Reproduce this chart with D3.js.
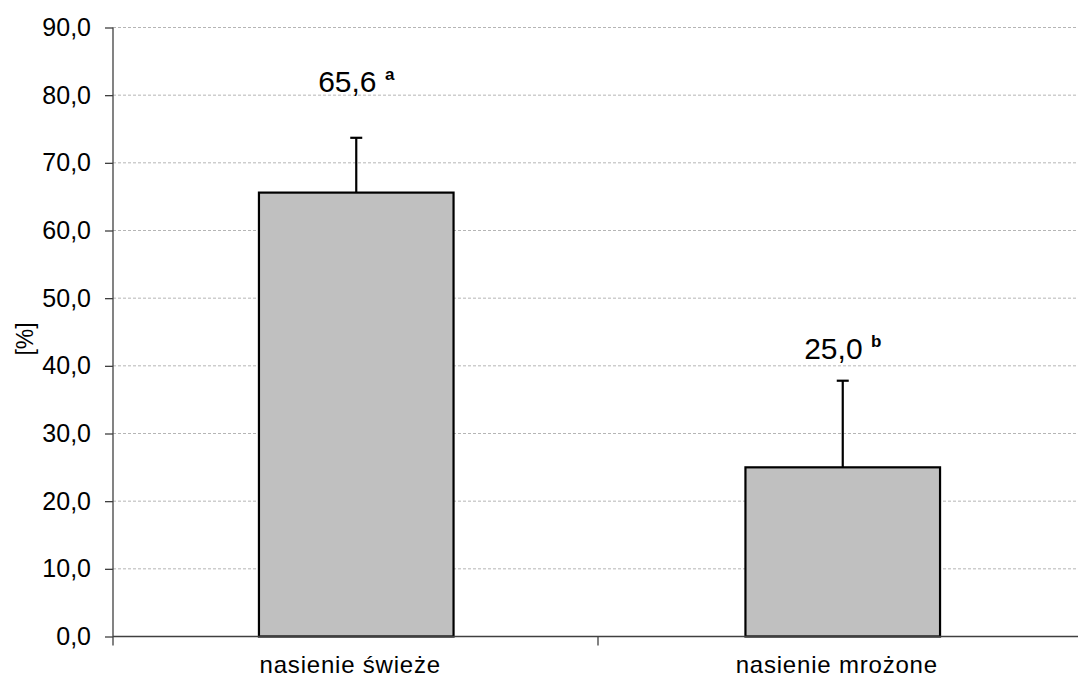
<!DOCTYPE html>
<html><head><meta charset="utf-8">
<script src="https://cdn.jsdelivr.net/npm/d3@7"></script>
<style>body{margin:0;background:#fff}svg{display:block}text{font-family:"Liberation Sans",Arial,sans-serif;fill:#000}</style>
</head><body>
<svg id="c" width="1078" height="679"></svg>
<script>
const categories = ["nasienie świeże", "nasienie mrożone"];
const values = [65.6, 25.0];
const errors = [8.1, 12.8];
const valueLabels = ["65,6", "25,0"];
const letters = ["a", "b"];
const labelPos = [80.5, 41.0];
const yTicks = [0,10,20,30,40,50,60,70,80,90];

(function(){
const svg = d3.select("#c");
const mL = 113, mR = 1086, mT = 27.5, mB = 636.5;
const y = d3.scaleLinear().domain([0, 90]).range([mB, mT]);
const x = d3.scaleBand().domain(categories).range([mL, mR]);
const bw = x.bandwidth() * 0.40;
const fmt = v => v.toFixed(1).replace(".", ",");

// gridlines
svg.append("g").selectAll("line").data(yTicks.filter(d => d > 0)).join("line")
  .attr("x1", mL).attr("x2", 1078).attr("y1", d => y(d)).attr("y2", d => y(d))
  .attr("stroke", "#b5b5b5").attr("stroke-width", 1).attr("stroke-dasharray", "3,2");

// y axis
const ya = svg.append("g").attr("transform", `translate(${mL},0)`)
  .call(d3.axisLeft(y).tickValues(yTicks).tickFormat(fmt).tickSize(8).tickPadding(14));
ya.select(".domain").remove();
ya.selectAll(".tick line").attr("stroke", "#404040").attr("stroke-width", 1.3);
ya.selectAll("text").style("font-size", "25px").attr("fill", "#000");
svg.append("line").attr("x1", mL).attr("x2", mL).attr("y1", mT).attr("y2", mB + 9)
  .attr("stroke", "#404040").attr("stroke-width", 1.3);

// bars
svg.append("g").selectAll("rect").data(categories).join("rect")
  .attr("x", d => x(d) + x.bandwidth()/2 - bw/2)
  .attr("width", bw)
  .attr("y", (d, i) => y(values[i]))
  .attr("height", (d, i) => y(0) - y(values[i]))
  .attr("fill", "#c0c0c0").attr("stroke", "#000").attr("stroke-width", 2.2);

// error bars
const eg = svg.append("g").attr("stroke", "#000").attr("stroke-width", 2.2);
categories.forEach((c, i) => {
  const cx = x(c) + x.bandwidth()/2;
  eg.append("line").attr("x1", cx).attr("x2", cx).attr("y1", y(values[i])).attr("y2", y(values[i] + errors[i]));
  eg.append("line").attr("x1", cx - 6).attr("x2", cx + 6).attr("y1", y(values[i] + errors[i])).attr("y2", y(values[i] + errors[i]));
});

// x axis
svg.append("line").attr("x1", mL).attr("x2", 1078).attr("y1", mB).attr("y2", mB)
  .attr("stroke", "#404040").attr("stroke-width", 1.3);
svg.append("g").selectAll("line").data(categories.slice(1)).join("line")
  .attr("x1", d => x(d) - 1.5).attr("x2", d => x(d) - 1.5).attr("y1", mB).attr("y2", mB + 9)
  .attr("stroke", "#404040").attr("stroke-width", 1.3);
svg.append("g").selectAll("text").data(categories).join("text")
  .attr("x", d => x(d) + x.bandwidth()/2 - 6).attr("y", 673)
  .attr("text-anchor", "middle").style("font-size", "24px").style("letter-spacing", "0.8px")
  .text(d => d);

// value labels
const lg = svg.append("g").selectAll("text").data(categories).join("text")
  .attr("x", d => x(d) + x.bandwidth()/2).attr("y", (d, i) => y(labelPos[i]))
  .attr("text-anchor", "middle").style("font-size", "30px");
lg.append("tspan").text((d, i) => valueLabels[i] + " ");
lg.append("tspan").attr("dy", -12).style("font-size", "17px").style("font-weight", "bold").text((d, i) => letters[i]);

// y label
svg.append("text").attr("transform", `translate(33,339) rotate(-90)`).attr("text-anchor", "middle")
  .style("font-size", "23px").text("[%]");
})();
</script>
</body></html>
